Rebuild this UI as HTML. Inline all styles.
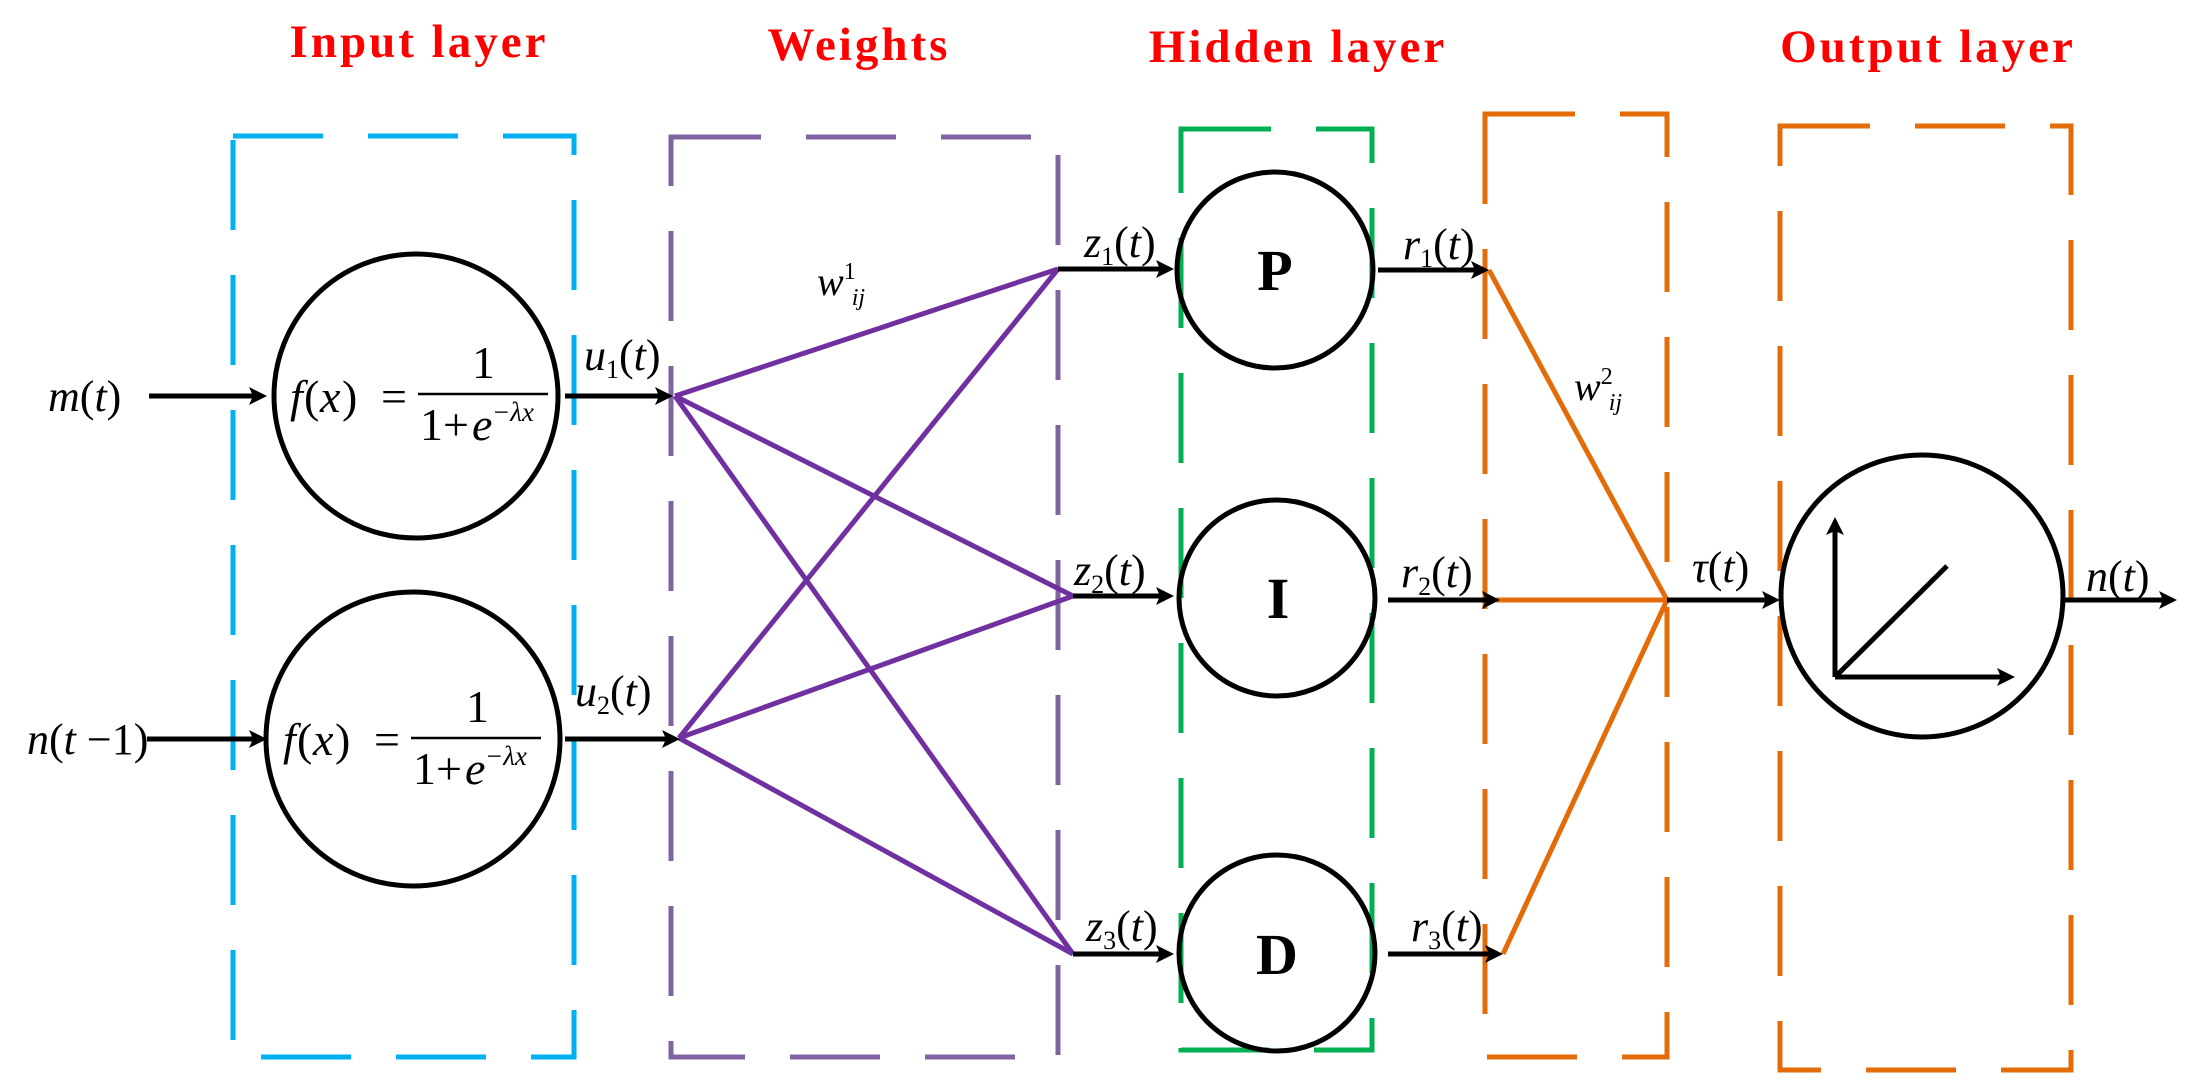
<!DOCTYPE html>
<html><head><meta charset="utf-8"><style>
html,body{margin:0;padding:0;background:#fff;}
svg{display:block;}
.t{font-family:"Liberation Serif",serif;font-style:italic;fill:#000;}
.r{font-family:"Liberation Serif",serif;fill:#000;}
.h{font-family:"Liberation Serif",serif;font-weight:bold;fill:#f00;font-size:47px;letter-spacing:3px;}
</style></head><body>
<svg width="2201" height="1089" viewBox="0 0 2201 1089" xmlns="http://www.w3.org/2000/svg">
<!-- titles -->
<text class="h" x="419" y="57" text-anchor="middle">Input  layer</text>
<text class="h" x="859" y="60" text-anchor="middle">Weights</text>
<text class="h" x="1298" y="62" text-anchor="middle">Hidden  layer</text>
<text class="h" x="1928" y="62" text-anchor="middle">Output  layer</text>

<!-- boxes -->
<rect x="233" y="136" width="341" height="921" fill="none" stroke="#00b0f0" stroke-width="5" stroke-dasharray="90 45"/>
<rect x="671" y="137" width="387" height="920" fill="none" stroke="#8064a2" stroke-width="5" stroke-dasharray="90 45"/>
<rect x="1181" y="129" width="191" height="921" fill="none" stroke="#00b050" stroke-width="5" stroke-dasharray="90 45"/>
<rect x="1485" y="114" width="182" height="943" fill="none" stroke="#e36c09" stroke-width="5" stroke-dasharray="90 45"/>
<rect x="1780" y="126" width="291" height="944" fill="none" stroke="#e36c09" stroke-width="5" stroke-dasharray="90 45"/>

<!-- purple lines -->
<g stroke="#7030a0" stroke-width="5" fill="none">
<line x1="675" y1="396" x2="1058" y2="269"/>
<line x1="675" y1="396" x2="1073" y2="596"/>
<line x1="675" y1="396" x2="1073" y2="954"/>
<line x1="679" y1="738" x2="1058" y2="269"/>
<line x1="679" y1="738" x2="1073" y2="596"/>
<line x1="679" y1="738" x2="1073" y2="954"/>
</g>
<!-- orange lines -->
<g stroke="#e36c09" stroke-width="5" fill="none">
<line x1="1489" y1="270" x2="1667" y2="600"/>
<line x1="1496" y1="600" x2="1667" y2="600"/>
<line x1="1503" y1="954" x2="1667" y2="600"/>
</g>

<!-- circles -->
<g stroke="#000" stroke-width="5" fill="none">
<circle cx="416" cy="396" r="142"/>
<circle cx="413" cy="739" r="147"/>
<circle cx="1275" cy="270" r="98"/>
<circle cx="1277" cy="598" r="98"/>
<circle cx="1277" cy="953" r="98"/>
<circle cx="1922" cy="596" r="141"/>
</g>

<!-- arrows -->
<g stroke="#000" stroke-width="5" fill="none">
<line x1="149" y1="396" x2="255" y2="396"/>
<line x1="565" y1="396" x2="660" y2="396"/>
<line x1="147" y1="739" x2="255" y2="739"/>
<line x1="565" y1="739" x2="667" y2="739"/>
<line x1="1058" y1="269" x2="1162" y2="269"/>
<line x1="1073" y1="596" x2="1162" y2="596"/>
<line x1="1073" y1="954" x2="1162" y2="954"/>
<line x1="1378" y1="270" x2="1477" y2="270"/>
<line x1="1388" y1="600" x2="1488" y2="600"/>
<line x1="1388" y1="954" x2="1491" y2="954"/>
<line x1="1667" y1="600" x2="1768" y2="600"/>
<line x1="2065" y1="600" x2="2165" y2="600"/>
<line x1="1835" y1="677" x2="1835" y2="530"/>
<line x1="1835" y1="677" x2="2003" y2="677"/>
<line x1="1835" y1="677" x2="1947" y2="566"/>
</g>
<g fill="#000">
<polygon points="267,396 249,387 253,396 249,405"/>
<polygon points="673,396 655,387 659,396 655,405"/>
<polygon points="267,739 249,730 253,739 249,748"/>
<polygon points="680,739 662,730 666,739 662,748"/>
<polygon points="1174,269 1156,260 1160,269 1156,278"/>
<polygon points="1174,596 1156,587 1160,596 1156,605"/>
<polygon points="1174,954 1156,945 1160,954 1156,963"/>
<polygon points="1489,270 1471,261 1475,270 1471,279"/>
<polygon points="1500,600 1482,591 1486,600 1482,609"/>
<polygon points="1503,954 1485,945 1489,954 1485,963"/>
<polygon points="1780,600 1762,591 1766,600 1762,609"/>
<polygon points="2177,600 2159,591 2163,600 2159,609"/>
<polygon points="1835,517 1826,535 1835,531 1844,535"/>
<polygon points="2015,677 1997,668 2001,677 1997,686"/>
</g>

<!-- formulas -->
<g font-size="46">
<text class="t" x="290" y="412">f</text><text class="r" x="304" y="412">(</text><text class="t" x="320" y="412">x</text><text class="r" x="342" y="412">)</text><text class="r" x="381" y="412">=</text>
<line x1="418" y1="394" x2="548" y2="394" stroke="#000" stroke-width="2.5"/>
<text class="r" x="472" y="378">1</text>
<text class="r" x="420" y="440">1+</text><text class="t" x="472" y="440">e</text>
<text class="t" x="492" y="421" font-size="27">−λx</text>

<text class="t" x="283" y="755">f</text><text class="r" x="297" y="755">(</text><text class="t" x="313" y="755">x</text><text class="r" x="335" y="755">)</text><text class="r" x="374" y="755">=</text>
<line x1="411" y1="738" x2="541" y2="738" stroke="#000" stroke-width="2.5"/>
<text class="r" x="466" y="722">1</text>
<text class="r" x="413" y="784">1+</text><text class="t" x="465" y="784">e</text>
<text class="t" x="485" y="765" font-size="27">−λx</text>
</g>

<!-- labels -->
<g font-size="44">
<text class="t" x="48" y="411">m<tspan font-style="normal">(</tspan>t<tspan font-style="normal">)</tspan></text>
<text class="t" x="27" y="754">n<tspan font-style="normal">(</tspan>t<tspan font-style="normal"> −1)</tspan></text>
<text class="t" x="584" y="370">u<tspan font-size="26" dy="8" font-style="normal">1</tspan><tspan dy="-8" font-style="normal">(</tspan>t<tspan font-style="normal">)</tspan></text>
<text class="t" x="575" y="706">u<tspan font-size="26" dy="8" font-style="normal">2</tspan><tspan dy="-8" font-style="normal">(</tspan>t<tspan font-style="normal">)</tspan></text>
<text class="t" x="1084" y="257">z<tspan font-size="26" dy="8" font-style="normal">1</tspan><tspan dy="-8" font-style="normal">(</tspan>t<tspan font-style="normal">)</tspan></text>
<text class="t" x="1074" y="585">z<tspan font-size="26" dy="8" font-style="normal">2</tspan><tspan dy="-8" font-style="normal">(</tspan>t<tspan font-style="normal">)</tspan></text>
<text class="t" x="1086" y="941">z<tspan font-size="26" dy="8" font-style="normal">3</tspan><tspan dy="-8" font-style="normal">(</tspan>t<tspan font-style="normal">)</tspan></text>
<text class="t" x="1403" y="259">r<tspan font-size="26" dy="8" font-style="normal">1</tspan><tspan dy="-8" font-style="normal">(</tspan>t<tspan font-style="normal">)</tspan></text>
<text class="t" x="1401" y="587">r<tspan font-size="26" dy="8" font-style="normal">2</tspan><tspan dy="-8" font-style="normal">(</tspan>t<tspan font-style="normal">)</tspan></text>
<text class="t" x="1411" y="941">r<tspan font-size="26" dy="8" font-style="normal">3</tspan><tspan dy="-8" font-style="normal">(</tspan>t<tspan font-style="normal">)</tspan></text>
<text class="t" x="1692" y="582">τ<tspan font-style="normal">(</tspan>t<tspan font-style="normal">)</tspan></text>
<text class="t" x="2086" y="591">n<tspan font-style="normal">(</tspan>t<tspan font-style="normal">)</tspan></text>
<text class="t" x="817" y="295" font-size="40">w<tspan font-size="24" dy="-16" font-style="normal">1</tspan><tspan font-size="24" dy="26" dx="-4">ij</tspan></text>
<text class="t" x="1574" y="400" font-size="40">w<tspan font-size="24" dy="-16" font-style="normal">2</tspan><tspan font-size="24" dy="26" dx="-4">ij</tspan></text>
</g>
<g font-size="58" font-weight="bold">
<text class="r" x="1275" y="290" text-anchor="middle">P</text>
<text class="r" x="1278" y="618" text-anchor="middle">I</text>
<text class="r" x="1277" y="974" text-anchor="middle">D</text>
</g>
</svg>
</body></html>
